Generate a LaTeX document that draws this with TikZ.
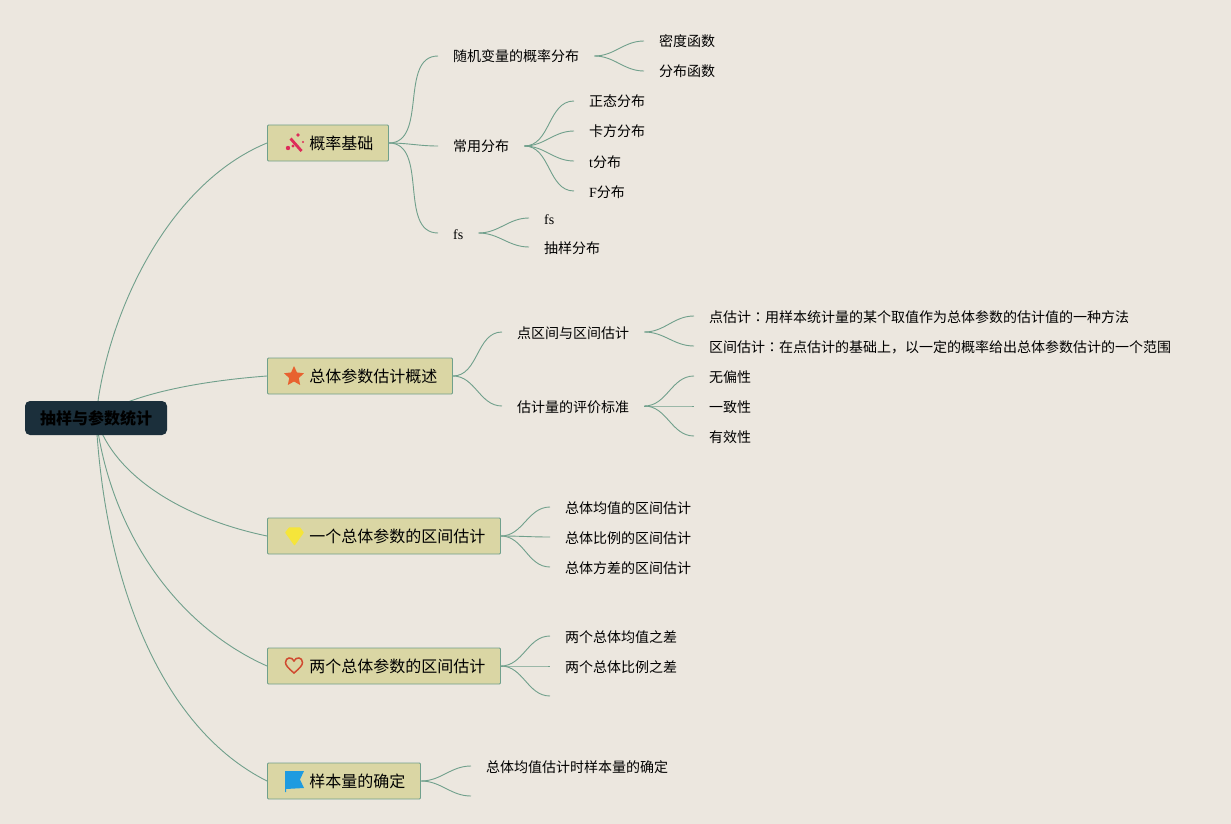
\documentclass[tikz,border=0pt]{standalone}
\usepackage{fontspec}
\setmainfont{Liberation Serif}
\newfontfamily\cjk{Noto Sans CJK SC}
\newfontfamily\cjkcolon{Noto Sans CJK TC}
\usetikzlibrary{backgrounds,shapes.geometric}
\definecolor{MapPaper}{RGB}{236,231,223}
\definecolor{MapLine}{RGB}{112,160,140}
\definecolor{MapTopic}{RGB}{218,214,164}
\definecolor{MapRoot}{RGB}{27,47,59}
\definecolor{IconWand}{RGB}{222,44,90}
\definecolor{IconStar}{RGB}{232,98,47}
\definecolor{IconGem}{RGB}{245,229,58}
\definecolor{IconHeart}{RGB}{208,73,47}
\definecolor{IconFlag}{RGB}{30,155,224}
\begin{document}
\begin{tikzpicture}[x=1pt,y=-1pt,edge/.style={draw=MapLine,line width=.9pt},rootbox/.style={rectangle,rounded corners=5pt,fill=MapRoot,minimum width=142pt,minimum height=34pt,inner sep=0pt,font=\cjk\bfseries\fontsize{16}{18}\selectfont},topic/.style={rectangle,rounded corners=1pt,draw=MapLine,fill=MapTopic,line width=.9pt,anchor=west,minimum height=36pt,inner xsep=15pt,inner ysep=0pt,font=\cjk\fontsize{16}{18}\selectfont},leaf/.style={anchor=west,inner xsep=15pt,inner ysep=0pt,text height=14pt,text depth=2pt,font=\cjk\fontsize{14}{16}\selectfont}]
\node[rootbox](root) at (96,418){抽样与参数统计};
\node[topic](gailv) at (267,143){\hspace{27pt}概率基础};
\node[topic](gaishu) at (267,376){\hspace{27pt}总体参数估计概述};
\node[topic](yige) at (267,536){\hspace{27pt}一个总体参数的区间估计};
\node[topic](liangge) at (267,666){\hspace{27pt}两个总体参数的区间估计};
\node[topic](yangben) at (267,781){\hspace{27pt}样本量的确定};
\node[leaf](suiji) at (438,56){随机变量的概率分布};
\node[leaf](changyong) at (438,146){常用分布};
\node[leaf](fsa) at (438,233){\rmfamily fs};
\node[leaf](midu) at (644,41){密度函数};
\node[leaf](fenbu) at (644,71){分布函数};
\node[leaf](zhengtai) at (574,101){正态分布};
\node[leaf](kafang) at (574,131){卡方分布};
\node[leaf](tdist) at (574,161){{\rmfamily t}分布};
\node[leaf](fdist) at (574,191){{\rmfamily F}分布};
\node[leaf](fsb) at (529,218){\rmfamily fs};
\node[leaf](chouyang) at (529,247){抽样分布};
\node[leaf](dianqu) at (502,332){点区间与区间估计};
\node[leaf](pingjia) at (502,406){估计量的评价标准};
\node[leaf](dian) at (694,316){点估计{\cjkcolon ：}用样本统计量的某个取值作为总体参数的估计值的一种方法};
\node[leaf](qujian) at (694,346){区间估计{\cjkcolon ：}在点估计的基础上，以一定的概率给出总体参数估计的一个范围};
\node[leaf](wupian) at (694,376){无偏性};
\node[leaf](yizhi) at (694,406){一致性};
\node[leaf](youxiao) at (694,436){有效性};
\node[leaf](junzhi) at (550,507){总体均值的区间估计};
\node[leaf](bili) at (550,537){总体比例的区间估计};
\node[leaf](fangcha) at (550,567){总体方差的区间估计};
\node[leaf](junzhicha) at (550,636){两个总体均值之差};
\node[leaf](bilicha) at (550,666){两个总体比例之差};
\coordinate (kong) at (550,696);
\node[leaf](queding) at (471,766){总体均值估计时样本量的确定};
\coordinate (kongb) at (471,796);
% icons
\fill[IconWand] (289.5,139.5)--(291.5,137.5)--(302.5,150)--(300.5,152)--cycle;
\fill[IconWand] (298,135) circle (1.8pt) (288,148) circle (2.2pt) (303,142) circle (1.1pt) (293,146) circle (1.6pt);
\node[star,star points=5,star point ratio=2.1,fill=IconStar,inner sep=0pt,minimum size=21pt](stern) at (294,376.5){};
\filldraw[fill=IconGem,draw=IconGem,line width=1.5pt,line join=round] (286,532.5)--(289.5,528)--(299.5,528)--(303,532.5)--(294.5,544.5)--cycle;
\draw[IconHeart,line width=1.5pt] (294,673) .. controls (288,668) and (285.5,665) .. (285.5,662.5) .. controls (285.5,657) and (292,656.5) .. (294,661) .. controls (296,656.5) and (302.5,657) .. (302.5,662.5) .. controls (302.5,665) and (300,668) .. (294,673)--cycle;
\fill[IconFlag] (285,771)--(304,771)--(300,779.5)--(304,788)--(286,789)--(286,792)--(285,792)--cycle;
\begin{pgfonlayer}{background}
\fill[MapPaper] (0,0) rectangle (1231,824);
\draw[edge] (root.center) .. controls (105,320) and (165,185) .. (gailv.west);
\draw[edge] (root.center) .. controls (130,394) and (200,381) .. (gaishu.west);
\draw[edge] (root.center) .. controls (115,480) and (190,520) .. (yige.west);
\draw[edge] (root.center) .. controls (110,530) and (175,625) .. (liangge.west);
\draw[edge] (root.center) .. controls (105,590) and (165,730) .. (yangben.west);
\foreach \x/\y in {gailv/suiji,gailv/changyong,gailv/fsa,suiji/midu,suiji/fenbu,changyong/zhengtai,changyong/kafang,changyong/tdist,changyong/fdist,fsa/fsb,fsa/chouyang,gaishu/dianqu,gaishu/pingjia,dianqu/dian,dianqu/qujian,pingjia/wupian,pingjia/yizhi,pingjia/youxiao,yige/junzhi,yige/bili,yige/fangcha,liangge/junzhicha,liangge/bilicha,liangge/kong,yangben/queding,yangben/kongb}{\draw[edge](\x.east) to[out=0,in=180] (\y.west);}
\end{pgfonlayer}
\end{tikzpicture}
\end{document}
